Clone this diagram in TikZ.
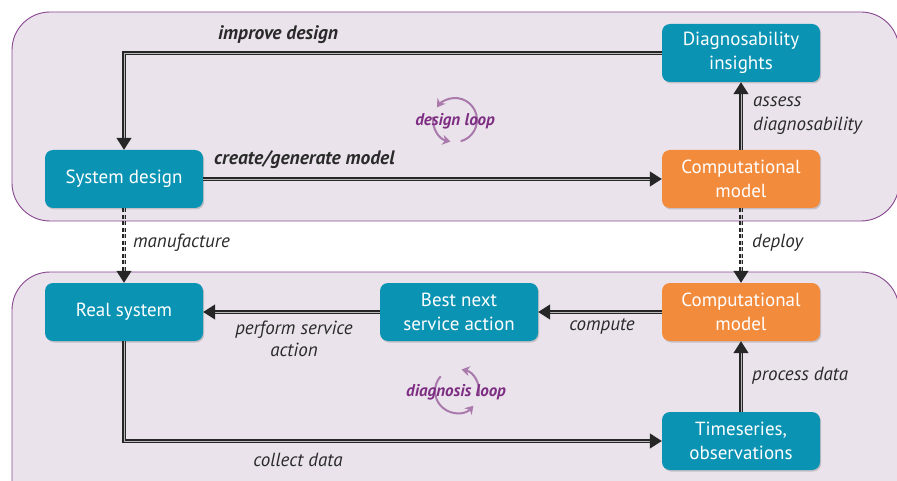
\documentclass[tikz,border=0pt]{standalone}
\usepackage{fontspec}
\setmainfont{PT Sans}
\usetikzlibrary{arrows.meta,shadows}
\definecolor{teal1}{HTML}{0B93B4}
\definecolor{orange1}{HTML}{F38B3D}
\definecolor{panelfill}{HTML}{EAE3EC}
\definecolor{panelline}{HTML}{87468E}
\definecolor{looptext}{HTML}{7D2E82}
\definecolor{looparrow}{HTML}{A97AAB}
\definecolor{lbltext}{HTML}{2A2A2A}
\begin{document}
\begin{tikzpicture}[x=1pt,y=-1pt,
  box/.style={rounded corners=8pt, minimum width=158pt, minimum height=58pt, inner sep=0pt,
    text=white, align=center, font=\fontsize{19}{24}\selectfont,
    drop shadow={shadow xshift=1.2pt, shadow yshift=-1.5pt, opacity=0.35}},
  tealbox/.style={box, fill=teal1},
  orangebox/.style={box, fill=orange1},
  panel/.style={draw=panelline, line width=0.9pt, fill=panelfill, rounded corners=38pt},
  flow/.style={draw=black!85, line width=1.3pt, double=gray!55, double distance=0.9pt,
    -{Triangle[length=12pt,width=15pt]}},
  dflow/.style={flow, dash pattern=on 4pt off 2.5pt},
  lbl/.style={font=\fontsize{19}{22}\selectfont\itshape, text=lbltext, inner sep=0pt},
  blbl/.style={font=\fontsize{19.5}{22}\selectfont\bfseries\itshape, text=lbltext, inner sep=0pt},
  looplbl/.style={font=\fontsize{17}{18}\selectfont\bfseries\itshape, text=looptext, inner sep=0pt},
  looparc/.style={draw=looparrow, line width=2pt, -{Stealth[length=8pt,width=10pt]}}
]
\useasboundingbox (0,0) rectangle (897,481);
\clip (0,0) rectangle (897,481);
% panels
\path[panel] (12,12) rectangle (899,221);
\path[panel] (12,272) rectangle (899,530);
% loops
\draw[looparc] (455,120) ++(75:22) arc[start angle=75, end angle=-145, radius=22];
\draw[looparc] (455,120) ++(-172:22) arc[start angle=-172, end angle=-258, radius=22];
\node[looplbl] (dl) at (455,121) {design loop};
\draw[looparc] (457,391) ++(12:22) arc[start angle=12, end angle=-78, radius=22];
\draw[looparc] (457,391) ++(-138:22) arc[start angle=-138, end angle=-318, radius=22];
\node[looplbl] (gl) at (456,392) {diagnosis loop};
% nodes
\node[tealbox] (di) at (741,53) {Diagnosability\\insights};
\node[tealbox] (sd) at (124,179) {System design};
\node[orangebox] (cm1) at (741,179) {Computational\\model};
\node[tealbox] (rs) at (124,312) {Real system};
\node[tealbox] (bn) at (459,312) {Best next\\service action};
\node[orangebox] (cm2) at (741,312) {Computational\\model};
\node[tealbox] (ts) at (741,441) {Timeseries,\\observations};
% connectors
\coordinate (c1) at (124,53);
\draw[flow] (di.west) -- (c1) -- (sd.north);
\draw[flow] (sd.east) -- (cm1.west);
\draw[flow] (cm1.north) -- (di.south);
\draw[dflow] (sd.south) -- (rs.north);
\draw[dflow] (cm1.south) -- (cm2.north);
\draw[flow] (cm2.west) -- (bn.east);
\draw[flow] (bn.west) -- (rs.east);
\coordinate (c2) at (124,441);
\draw[flow] (rs.south) -- (c2) -- (ts.west);
\draw[flow] (ts.north) -- (cm2.south);
% labels
\node[blbl, anchor=west] (l1) at (218,35) {improve design};
\node[blbl, anchor=west] (l2) at (214,160) {create/generate model};
\node[lbl, anchor=west, align=left, font=\fontsize{19}{24}\selectfont\itshape] (l3) at (753,116) {assess\\diagnosability};
\node[lbl, anchor=west] (l4) at (133,243) {manufacture};
\node[lbl, anchor=west] (l5) at (752,243) {deploy};
\node[lbl, align=center] (l6) at (294,339) {perform service\\action};
\node[lbl] (l7) at (602,326) {compute};
\node[lbl] (l8) at (298,460) {collect data};
\node[lbl, anchor=west] (l9) at (752,376) {process data};
\end{tikzpicture}
\end{document}
